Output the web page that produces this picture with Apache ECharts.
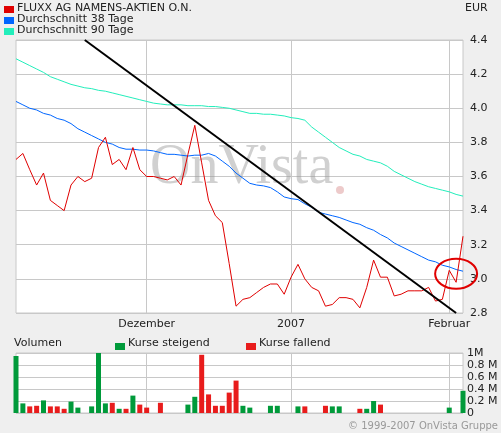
<!DOCTYPE html>
<html>
<head>
<meta charset="utf-8">
<script src="https://cdn.jsdelivr.net/npm/echarts@6/dist/echarts.min.js"></script>
<style>
  html, body { margin: 0; padding: 0; background: #efefef; }
  #chart { width: 501px; height: 433px; }
</style>
</head>
<body>
<div id="chart"></div>
<script>
// Kursdaten (66 Handelstage)
const dayLabels = [];
for (let i = 0; i < 66; i++) dayLabels.push("");
dayLabels[19] = "Dezember";
dayLabels[40] = "2007";
dayLabels[63] = "Februar";
const monthIdx = [19, 40, 63];

const kurs = [3.70,3.735,3.64,3.55,3.62,3.46,3.43,3.40,3.55,3.60,
  3.57,3.59,3.77,3.83,3.67,3.70,3.64,3.77,3.64,3.60,
  3.60,3.59,3.58,3.60,3.55,3.73,3.90,3.68,3.46,3.37,
  3.33,3.09,2.84,2.88,2.89,2.92,2.95,2.97,2.97,2.91,
  3.01,3.085,3.00,2.95,2.93,2.84,2.85,2.89,2.89,2.88,
  2.83,2.95,3.11,3.01,3.01,2.90,2.91,2.93,2.93,2.93,
  2.95,2.87,2.88,3.05,2.98,3.25];
const schnitt38 = [4.04,4.02,4.00,3.99,3.97,3.96,3.94,3.93,3.91,3.88,
  3.86,3.84,3.82,3.80,3.79,3.77,3.76,3.76,3.755,3.755,
  3.75,3.74,3.73,3.73,3.725,3.72,3.725,3.725,3.735,3.72,
  3.69,3.66,3.62,3.59,3.56,3.55,3.545,3.535,3.51,3.48,
  3.47,3.465,3.44,3.42,3.39,3.38,3.37,3.36,3.345,3.33,
  3.32,3.30,3.285,3.26,3.24,3.21,3.19,3.17,3.15,3.13,
  3.11,3.10,3.08,3.07,3.055,3.045];
const schnitt90 = [4.29,4.27,4.25,4.23,4.21,4.185,4.17,4.155,4.14,4.13,
  4.12,4.115,4.105,4.10,4.09,4.08,4.07,4.06,4.05,4.04,
  4.03,4.025,4.02,4.02,4.02,4.015,4.015,4.015,4.01,4.01,
  4.005,4.00,3.99,3.98,3.97,3.97,3.965,3.965,3.96,3.955,
  3.945,3.94,3.93,3.89,3.86,3.83,3.80,3.77,3.75,3.73,
  3.72,3.70,3.69,3.68,3.66,3.63,3.61,3.59,3.57,3.555,
  3.54,3.53,3.52,3.51,3.495,3.485];
// Volumen in Mio, Richtung: u = steigend, d = fallend
const volumen = [0.95,0.16,0.11,0.12,0.21,0.11,0.11,0.07,0.19,0.09,
  0,0.11,1.0,0.16,0.17,0.07,0.07,0.29,0.14,0.09,
  0,0.17,0,0,0,0.14,0.27,0.97,0.31,0.12,
  0.12,0.34,0.54,0.12,0.09,0,0,0.12,0.12,0,
  0,0.11,0.11,0,0,0.12,0.11,0.11,0,0,
  0.07,0.07,0.20,0.14,0,0,0,0,0,0,
  0,0,0,0.09,0,0.37];
const richtung = "uudduddduu-uuudud" + "udd-d---uuddddddu" + "u--uu--ud--duu--d" + "uud---------u-u";
const trend = [[10, 4.40], [64, 2.80]];
const priceTicks = [2.8, 4.4, 0.2];

const chart = echarts.init(document.getElementById("chart"));
const grey = "#c8c8c8";
const labelFont = { fontFamily: "DejaVu Sans", fontSize: 11, color: "#222" };

const xBase = {
  type: "category", data: dayLabels, boundaryGap: false,
  axisLine: { show: false }, axisTick: { show: false },
  splitLine: { show: true, interval: (i) => monthIdx.includes(i), lineStyle: { color: grey } }
};

chart.setOption({
  animation: false,
  backgroundColor: "#efefef",
  grid: [
    { left: 16, right: 38, top: 40, height: 273, show: true, backgroundColor: "#fff", borderColor: grey },
    { left: 16, right: 38, top: 353, height: 60, show: true, backgroundColor: "#fff", borderColor: grey }
  ],
  xAxis: [
    Object.assign({ gridIndex: 0, axisLabel: Object.assign({ interval: 0, fontSize: 10, margin: 6 }, labelFont) }, xBase),
    Object.assign({ gridIndex: 1, axisLabel: { show: false } }, xBase)
  ],
  yAxis: [
    { gridIndex: 0, position: "right", min: priceTicks[0], max: priceTicks[1], interval: priceTicks[2],
      axisLine: { show: false }, axisTick: { show: false },
      splitLine: { lineStyle: { color: grey } },
      axisLabel: Object.assign({ margin: 7, formatter: (v) => v.toFixed(1) }, labelFont) },
    { gridIndex: 1, position: "right", min: 0, max: 1, interval: 0.2,
      axisLine: { show: false }, axisTick: { show: false },
      splitLine: { lineStyle: { color: grey } },
      axisLabel: Object.assign({ margin: 4, formatter: (v) => v === 0 ? "0" : (v >= 1 ? "1M" : v.toFixed(1) + " M") }, labelFont) }
  ],
  series: [
    { type: "line", data: schnitt90, symbol: "none", lineStyle: { color: "#22eebb", width: 1 } },
    { type: "line", data: schnitt38, symbol: "none", lineStyle: { color: "#0066ff", width: 1 } },
    { type: "line", data: kurs, symbol: "none", lineStyle: { color: "#e00000", width: 1 },
      markLine: { silent: true, symbol: "none", label: { show: false },
        lineStyle: { color: "#000", width: 2, type: "solid" },
        data: [[{ coord: trend[0] }, { coord: trend[1] }]] } },
    { type: "bar", xAxisIndex: 1, yAxisIndex: 1, barWidth: 5,
      data: volumen.map((v, i) => ({ value: v || null,
        itemStyle: { color: richtung[i] === "d" ? "#e81c1c" : "#009a3a" } })) }
  ]
});

const c = chart.convertToPixel({ gridIndex: 0 }, [63.6, 3.03]);
const sq = (y, color) => ({ type: "rect", left: 4, top: y, shape: { width: 10, height: 7 }, style: { fill: color } });
const txt = (x, y, t, extra) => ({ type: "text", left: x, top: y,
  style: Object.assign({ text: t, font: "11px DejaVu Sans", fill: "#222" }, extra || {}) });
chart.setOption({
  graphic: [
    { type: "text", left: 150, top: 140, z: 0, silent: true,
      style: { text: "OnVista", font: "56px Liberation Serif", fill: "rgba(150,150,150,0.45)" } },
    { type: "circle", shape: { cx: 340, cy: 190, r: 4 }, style: { fill: "rgba(220,150,150,0.5)" } },
    { type: "ellipse", shape: { cx: c[0], cy: c[1], rx: 21, ry: 15 }, style: { fill: "none", stroke: "#e00000", lineWidth: 2 }, z: 10 },
    sq(6, "#e00000"), txt(17, 3, "FLUXX AG NAMENS-AKTIEN O.N."),
    sq(17, "#0066ff"), txt(17, 14, "Durchschnitt 38 Tage"),
    sq(28, "#22eebb"), txt(17, 25, "Durchschnitt 90 Tage"),
    txt(465, 3, "EUR"),
    txt(14, 338, "Volumen"),
    { type: "rect", left: 115, top: 343, shape: { width: 10, height: 7 }, style: { fill: "#009a3a" } },
    txt(128, 338, "Kurse steigend"),
    { type: "rect", left: 246, top: 343, shape: { width: 10, height: 7 }, style: { fill: "#e81c1c" } },
    txt(259, 338, "Kurse fallend"),
    { type: "text", right: 3, top: 421, style: { text: "© 1999-2007 OnVista Gruppe", font: "10px DejaVu Sans", fill: "#999" } }
  ]
});
</script>
</body>
</html>
